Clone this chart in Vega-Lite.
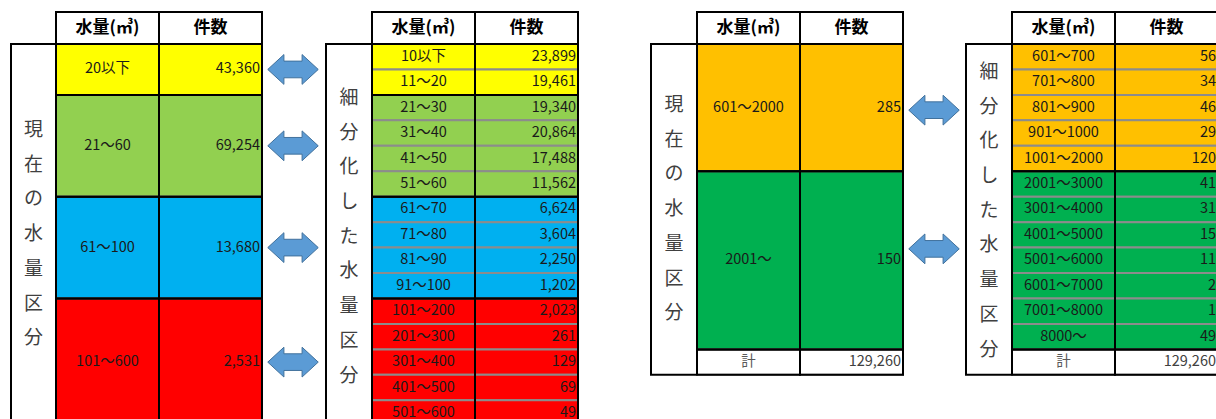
{
  "$schema": "https://vega.github.io/schema/vega-lite/v6.json",
  "width": 1216,
  "height": 419,
  "autosize": {"type": "none"},
  "padding": 0,
  "background": "white",
  "config": {
    "view": {"stroke": null},
    "text": {"font": "Noto Sans CJK JP"}
  },
  "datasets": {
    "tables": [
      {"tbl": 1, "xa": 11, "xb": 56, "xc": 159, "xd": 262, "xl": 33.5, "xr": 107.5, "xn": 210.5},
      {"tbl": 2, "xa": 326, "xb": 372, "xc": 475, "xd": 578, "xl": 349, "xr": 423.5, "xn": 526.5},
      {"tbl": 3, "xa": 651, "xb": 697, "xc": 800, "xd": 903, "xl": 674, "xr": 748.5, "xn": 851.5},
      {"tbl": 4, "xa": 966, "xb": 1012, "xc": 1115, "xd": 1218, "xl": 989, "xr": 1063.5, "xn": 1166.5}
    ],
    "labels": [
      {"tbl": 1, "text": "現\n在\nの\n水\n量\n区\n分", "y": 0, "y2": 15, "yfirst": 3.38},
      {"tbl": 2, "text": "細\n分\n化\nし\nた\n水\n量\n区\n分", "y": 0, "y2": 15, "yfirst": 2.12},
      {"tbl": 3, "text": "現\n在\nの\n水\n量\n区\n分", "y": 0, "y2": 13, "yfirst": 2.4},
      {"tbl": 4, "text": "細\n分\n化\nし\nた\n水\n量\n区\n分", "y": 0, "y2": 13, "yfirst": 1.1}
    ],
    "groups": [
      {"tbl": 1, "y": 0, "y2": 2}, {"tbl": 1, "y": 2, "y2": 6}, {"tbl": 1, "y": 6, "y2": 10}, {"tbl": 1, "y": 10, "y2": 15},
      {"tbl": 2, "y": 0, "y2": 2}, {"tbl": 2, "y": 2, "y2": 6}, {"tbl": 2, "y": 6, "y2": 10}, {"tbl": 2, "y": 10, "y2": 15},
      {"tbl": 3, "y": 0, "y2": 5}, {"tbl": 3, "y": 5, "y2": 12}, {"tbl": 3, "y": 12, "y2": 13},
      {"tbl": 4, "y": 0, "y2": 5}, {"tbl": 4, "y": 5, "y2": 12}, {"tbl": 4, "y": 12, "y2": 13}
    ],
    "cells": [
      {"tbl": 1, "y": 0, "y2": 2, "ym": 1, "cat": "a", "range": "20以下", "count": 43360},
      {"tbl": 1, "y": 2, "y2": 6, "ym": 4, "cat": "b", "range": "21～60", "count": 69254},
      {"tbl": 1, "y": 6, "y2": 10, "ym": 8, "cat": "c", "range": "61～100", "count": 13680},
      {"tbl": 1, "y": 10, "y2": 15, "ym": 12.5, "cat": "d", "range": "101～600", "count": 2531},
      {"tbl": 2, "y": 0, "y2": 1, "ym": 0.5, "cat": "a", "range": "10以下", "count": 23899},
      {"tbl": 2, "y": 1, "y2": 2, "ym": 1.5, "cat": "a", "range": "11～20", "count": 19461},
      {"tbl": 2, "y": 2, "y2": 3, "ym": 2.5, "cat": "b", "range": "21～30", "count": 19340},
      {"tbl": 2, "y": 3, "y2": 4, "ym": 3.5, "cat": "b", "range": "31～40", "count": 20864},
      {"tbl": 2, "y": 4, "y2": 5, "ym": 4.5, "cat": "b", "range": "41～50", "count": 17488},
      {"tbl": 2, "y": 5, "y2": 6, "ym": 5.5, "cat": "b", "range": "51～60", "count": 11562},
      {"tbl": 2, "y": 6, "y2": 7, "ym": 6.5, "cat": "c", "range": "61～70", "count": 6624},
      {"tbl": 2, "y": 7, "y2": 8, "ym": 7.5, "cat": "c", "range": "71～80", "count": 3604},
      {"tbl": 2, "y": 8, "y2": 9, "ym": 8.5, "cat": "c", "range": "81～90", "count": 2250},
      {"tbl": 2, "y": 9, "y2": 10, "ym": 9.5, "cat": "c", "range": "91～100", "count": 1202},
      {"tbl": 2, "y": 10, "y2": 11, "ym": 10.5, "cat": "d", "range": "101～200", "count": 2023},
      {"tbl": 2, "y": 11, "y2": 12, "ym": 11.5, "cat": "d", "range": "201～300", "count": 261},
      {"tbl": 2, "y": 12, "y2": 13, "ym": 12.5, "cat": "d", "range": "301～400", "count": 129},
      {"tbl": 2, "y": 13, "y2": 14, "ym": 13.5, "cat": "d", "range": "401～500", "count": 69},
      {"tbl": 2, "y": 14, "y2": 15, "ym": 14.5, "cat": "d", "range": "501～600", "count": 49},
      {"tbl": 3, "y": 0, "y2": 5, "ym": 2.5, "cat": "e", "range": "601～2000", "count": 285},
      {"tbl": 3, "y": 5, "y2": 12, "ym": 8.5, "cat": "f", "range": "2001～", "count": 150},
      {"tbl": 3, "y": 12, "y2": 13, "ym": 12.5, "cat": "t", "range": "計", "count": 129260},
      {"tbl": 4, "y": 0, "y2": 1, "ym": 0.5, "cat": "e", "range": "601～700", "count": 56},
      {"tbl": 4, "y": 1, "y2": 2, "ym": 1.5, "cat": "e", "range": "701～800", "count": 34},
      {"tbl": 4, "y": 2, "y2": 3, "ym": 2.5, "cat": "e", "range": "801～900", "count": 46},
      {"tbl": 4, "y": 3, "y2": 4, "ym": 3.5, "cat": "e", "range": "901～1000", "count": 29},
      {"tbl": 4, "y": 4, "y2": 5, "ym": 4.5, "cat": "e", "range": "1001～2000", "count": 120},
      {"tbl": 4, "y": 5, "y2": 6, "ym": 5.5, "cat": "f", "range": "2001～3000", "count": 41},
      {"tbl": 4, "y": 6, "y2": 7, "ym": 6.5, "cat": "f", "range": "3001～4000", "count": 31},
      {"tbl": 4, "y": 7, "y2": 8, "ym": 7.5, "cat": "f", "range": "4001～5000", "count": 15},
      {"tbl": 4, "y": 8, "y2": 9, "ym": 8.5, "cat": "f", "range": "5001～6000", "count": 11},
      {"tbl": 4, "y": 9, "y2": 10, "ym": 9.5, "cat": "f", "range": "6001～7000", "count": 2},
      {"tbl": 4, "y": 10, "y2": 11, "ym": 10.5, "cat": "f", "range": "7001～8000", "count": 1},
      {"tbl": 4, "y": 11, "y2": 12, "ym": 11.5, "cat": "f", "range": "8000～", "count": 49},
      {"tbl": 4, "y": 12, "y2": 13, "ym": 12.5, "cat": "t", "range": "計", "count": 129260}
    ],
    "arrows": [
      {"x": 293, "y": 1},
      {"x": 293, "y": 4},
      {"x": 293, "y": 8},
      {"x": 293, "y": 12.5},
      {"x": 934, "y": 2.6},
      {"x": 934, "y": 8.05}
    ]
  },
  "layer": [
    {
      "data": {"name": "labels"},
      "transform": [{"lookup": "tbl", "from": {"data": {"name": "tables"}, "key": "tbl", "fields": ["xa", "xb"]}}],
      "mark": {"type": "rect", "fill": "white", "stroke": "black", "strokeWidth": 2, "clip": true},
      "encoding": {
        "x": {"field": "xa", "type": "quantitative", "scale": {"domain": [0, 1216], "nice": false, "zero": false}, "axis": null},
        "x2": {"field": "xb"},
        "y": {"field": "y", "type": "quantitative", "scale": {"domain": [-1.729, 14.735], "reverse": true, "nice": false, "zero": false}, "axis": null},
        "y2": {"field": "y2"}
      }
    },
    {
      "data": {"name": "tables"},
      "mark": {"type": "rect", "fill": "white", "stroke": "black", "strokeWidth": 2, "clip": true},
      "encoding": {
        "x": {"field": "xb", "type": "quantitative", "scale": {"domain": [0, 1216], "nice": false, "zero": false}, "axis": null},
        "x2": {"field": "xc"},
        "y": {"datum": -1.26, "type": "quantitative", "scale": {"domain": [-1.729, 14.735], "reverse": true, "nice": false, "zero": false}, "axis": null},
        "y2": {"datum": 0}
      }
    },
    {
      "data": {"name": "tables"},
      "mark": {"type": "rect", "fill": "white", "stroke": "black", "strokeWidth": 2, "clip": true},
      "encoding": {
        "x": {"field": "xc", "type": "quantitative", "scale": {"domain": [0, 1216], "nice": false, "zero": false}, "axis": null},
        "x2": {"field": "xd"},
        "y": {"datum": -1.26, "type": "quantitative", "scale": {"domain": [-1.729, 14.735], "reverse": true, "nice": false, "zero": false}, "axis": null},
        "y2": {"datum": 0}
      }
    },
    {
      "data": {"name": "cells"},
      "transform": [{"lookup": "tbl", "from": {"data": {"name": "tables"}, "key": "tbl", "fields": ["xb", "xc"]}}],
      "mark": {"type": "rect", "stroke": "#8c8c8c", "strokeWidth": 2, "clip": true},
      "encoding": {
        "x": {"field": "xb", "type": "quantitative", "scale": {"domain": [0, 1216], "nice": false, "zero": false}, "axis": null},
        "x2": {"field": "xc"},
        "y": {"field": "y", "type": "quantitative", "scale": {"domain": [-1.729, 14.735], "reverse": true, "nice": false, "zero": false}, "axis": null},
        "y2": {"field": "y2"},
        "fill": {"field": "cat", "type": "nominal", "legend": null,
          "scale": {"domain": ["a", "b", "c", "d", "e", "f", "t"], "range": ["#FFFF00", "#92D050", "#00B0F0", "#FF0000", "#FFC000", "#00B050", "#FFFFFF"]}}
      }
    },
    {
      "data": {"name": "cells"},
      "transform": [{"lookup": "tbl", "from": {"data": {"name": "tables"}, "key": "tbl", "fields": ["xc", "xd"]}}],
      "mark": {"type": "rect", "stroke": "#8c8c8c", "strokeWidth": 2, "clip": true},
      "encoding": {
        "x": {"field": "xc", "type": "quantitative", "scale": {"domain": [0, 1216], "nice": false, "zero": false}, "axis": null},
        "x2": {"field": "xd"},
        "y": {"field": "y", "type": "quantitative", "scale": {"domain": [-1.729, 14.735], "reverse": true, "nice": false, "zero": false}, "axis": null},
        "y2": {"field": "y2"},
        "fill": {"field": "cat", "type": "nominal", "legend": null,
          "scale": {"domain": ["a", "b", "c", "d", "e", "f", "t"], "range": ["#FFFF00", "#92D050", "#00B0F0", "#FF0000", "#FFC000", "#00B050", "#FFFFFF"]}}
      }
    },
    {
      "data": {"name": "groups"},
      "transform": [{"lookup": "tbl", "from": {"data": {"name": "tables"}, "key": "tbl", "fields": ["xb", "xc"]}}],
      "mark": {"type": "rect", "filled": false, "stroke": "black", "strokeWidth": 2, "clip": true},
      "encoding": {
        "x": {"field": "xb", "type": "quantitative", "scale": {"domain": [0, 1216], "nice": false, "zero": false}, "axis": null},
        "x2": {"field": "xc"},
        "y": {"field": "y", "type": "quantitative", "scale": {"domain": [-1.729, 14.735], "reverse": true, "nice": false, "zero": false}, "axis": null},
        "y2": {"field": "y2"}
      }
    },
    {
      "data": {"name": "groups"},
      "transform": [{"lookup": "tbl", "from": {"data": {"name": "tables"}, "key": "tbl", "fields": ["xc", "xd"]}}],
      "mark": {"type": "rect", "filled": false, "stroke": "black", "strokeWidth": 2, "clip": true},
      "encoding": {
        "x": {"field": "xc", "type": "quantitative", "scale": {"domain": [0, 1216], "nice": false, "zero": false}, "axis": null},
        "x2": {"field": "xd"},
        "y": {"field": "y", "type": "quantitative", "scale": {"domain": [-1.729, 14.735], "reverse": true, "nice": false, "zero": false}, "axis": null},
        "y2": {"field": "y2"}
      }
    },
    {
      "data": {"name": "tables"},
      "mark": {"type": "text", "fontSize": 17, "fontWeight": "bold", "color": "black", "baseline": "middle", "align": "center"},
      "encoding": {
        "x": {"field": "xr", "type": "quantitative", "scale": {"domain": [0, 1216], "nice": false, "zero": false}, "axis": null},
        "y": {"datum": -0.63, "type": "quantitative", "scale": {"domain": [-1.729, 14.735], "reverse": true, "nice": false, "zero": false}, "axis": null},
        "text": {"value": "水量(㎥)"}
      }
    },
    {
      "data": {"name": "tables"},
      "mark": {"type": "text", "fontSize": 17, "fontWeight": "bold", "color": "black", "baseline": "middle", "align": "center"},
      "encoding": {
        "x": {"field": "xn", "type": "quantitative", "scale": {"domain": [0, 1216], "nice": false, "zero": false}, "axis": null},
        "y": {"datum": -0.63, "type": "quantitative", "scale": {"domain": [-1.729, 14.735], "reverse": true, "nice": false, "zero": false}, "axis": null},
        "text": {"value": "件数"}
      }
    },
    {
      "data": {"name": "labels"},
      "transform": [{"lookup": "tbl", "from": {"data": {"name": "tables"}, "key": "tbl", "fields": ["xl"]}}],
      "mark": {"type": "text", "fontSize": 19, "color": "#404040", "baseline": "middle", "align": "center", "lineBreak": "\n", "lineHeight": 34.7},
      "encoding": {
        "x": {"field": "xl", "type": "quantitative", "scale": {"domain": [0, 1216], "nice": false, "zero": false}, "axis": null},
        "y": {"field": "yfirst", "type": "quantitative", "scale": {"domain": [-1.729, 14.735], "reverse": true, "nice": false, "zero": false}, "axis": null},
        "text": {"field": "text", "type": "nominal"}
      }
    },
    {
      "data": {"name": "cells"},
      "transform": [{"lookup": "tbl", "from": {"data": {"name": "tables"}, "key": "tbl", "fields": ["xr"]}}],
      "mark": {"type": "text", "fontSize": 14.5, "baseline": "middle", "align": "center", "clip": true},
      "encoding": {
        "x": {"field": "xr", "type": "quantitative", "scale": {"domain": [0, 1216], "nice": false, "zero": false}, "axis": null},
        "y": {"field": "ym", "type": "quantitative", "scale": {"domain": [-1.729, 14.735], "reverse": true, "nice": false, "zero": false}, "axis": null},
        "text": {"field": "range", "type": "nominal"},
        "color": {"condition": {"test": "datum.cat === 't'", "value": "#595959"}, "value": "#1a1a1a"}
      }
    },
    {
      "data": {"name": "cells"},
      "transform": [{"lookup": "tbl", "from": {"data": {"name": "tables"}, "key": "tbl", "fields": ["xd"]}}],
      "mark": {"type": "text", "fontSize": 14.5, "baseline": "middle", "align": "right", "dx": -2, "clip": true},
      "encoding": {
        "x": {"field": "xd", "type": "quantitative", "scale": {"domain": [0, 1216], "nice": false, "zero": false}, "axis": null},
        "y": {"field": "ym", "type": "quantitative", "scale": {"domain": [-1.729, 14.735], "reverse": true, "nice": false, "zero": false}, "axis": null},
        "text": {"field": "count", "type": "quantitative", "format": ","},
        "color": {"condition": {"test": "datum.cat === 't'", "value": "#404040"}, "value": "#1a1a1a"}
      }
    },
    {
      "data": {"name": "arrows"},
      "mark": {
        "type": "point",
        "shape": "M-1,0 L-0.36,-0.59 L-0.36,-0.33 L0.36,-0.33 L0.36,-0.59 L1,0 L0.36,0.59 L0.36,0.33 L-0.36,0.33 L-0.36,0.59 Z",
        "size": 2550,
        "filled": true,
        "fill": "#5B9BD5",
        "stroke": "#41719C",
        "strokeWidth": 1,
        "opacity": 1
      },
      "encoding": {
        "x": {"field": "x", "type": "quantitative", "scale": {"domain": [0, 1216], "nice": false, "zero": false}, "axis": null},
        "y": {"field": "y", "type": "quantitative", "scale": {"domain": [-1.729, 14.735], "reverse": true, "nice": false, "zero": false}, "axis": null}
      }
    }
  ]
}
